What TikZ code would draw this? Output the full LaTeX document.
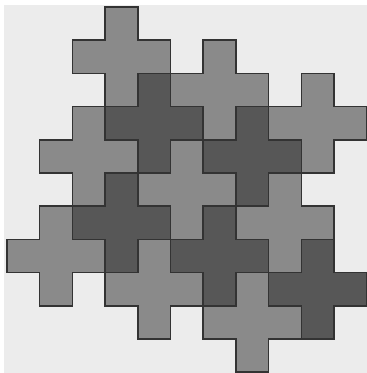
\documentclass[tikz,border=0pt]{standalone}
\definecolor{bg}{HTML}{ECECEC}
\definecolor{lightcross}{HTML}{8A8A8A}
\definecolor{darkcross}{HTML}{575757}
\definecolor{edge}{HTML}{333333}
\tikzset{
  crossbase/.style={draw=edge, line width=1.5pt, line join=miter},
  lightpiece/.style={crossbase, fill=lightcross},
  darkpiece/.style={crossbase, fill=darkcross}
}
\newcommand\plusshape[3]{%
  \path[#1] (#2,#3-1) -- (#2+1,#3-1) -- (#2+1,#3) -- (#2+2,#3) -- (#2+2,#3+1)
    -- (#2+1,#3+1) -- (#2+1,#3+2) -- (#2,#3+2) -- (#2,#3+1) -- (#2-1,#3+1)
    -- (#2-1,#3) -- (#2,#3) -- cycle;}
\begin{document}
\begin{tikzpicture}[x=1pt,y=1pt]
  \useasboundingbox (0,0) rectangle (367,373);
  \fill[white] (0,0) rectangle (367,373);
  \fill[bg] (4,0) rectangle (367,368);
  \begin{scope}
    \clip (0,0) rectangle (367,373);
    \begin{scope}[shift={(7,366)}, x=32.7pt, y=-33.2pt]
      \foreach \c/\r in {3/1, 6/2, 9/3, 2/4, 5/5, 8/6, 1/7, 4/8, 7/9}
        {\plusshape{lightpiece}{\c}{\r}}
      \foreach \c/\r in {4/3, 7/4, 3/6, 6/7, 9/8}
        {\plusshape{darkpiece}{\c}{\r}}
    \end{scope}
  \end{scope}
\end{tikzpicture}
\end{document}
